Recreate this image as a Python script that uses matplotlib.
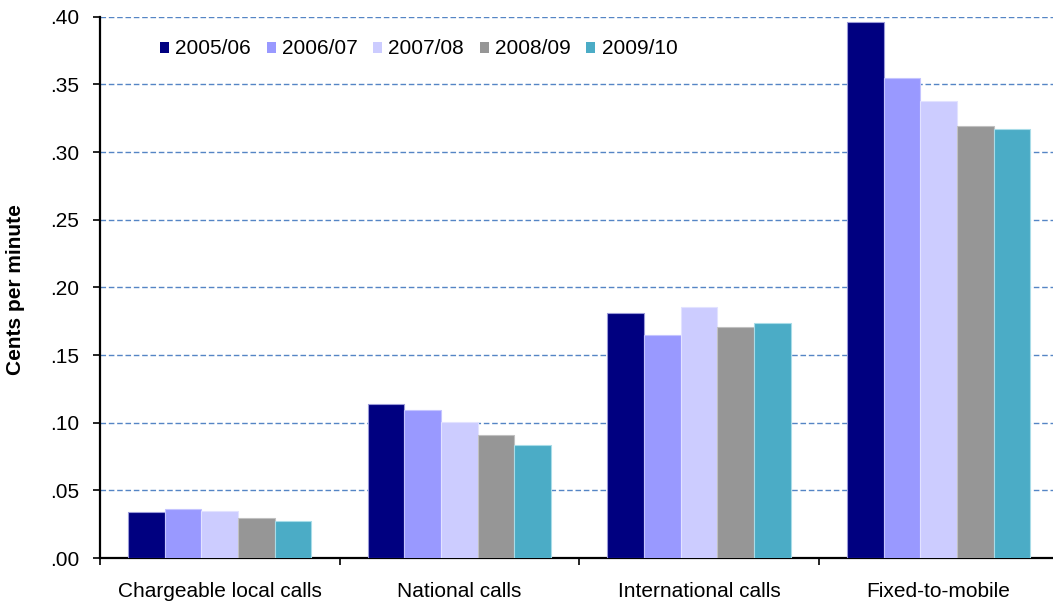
import matplotlib
matplotlib.use("Agg")
import matplotlib.pyplot as plt
import numpy as np
from matplotlib.patches import Patch

categories = ["Chargeable local calls", "National calls", "International calls", "Fixed-to-mobile"]
years = ["2005/06", "2006/07", "2007/08", "2008/09", "2009/10"]
v2005 = [0.0338, 0.1139, 0.1807, 0.3960]
v2006 = [0.0360, 0.1092, 0.1647, 0.3548]
v2007 = [0.0348, 0.1006, 0.1857, 0.3378]
v2008 = [0.0298, 0.0907, 0.1709, 0.3193]
v2009 = [0.0274, 0.0833, 0.1733, 0.3171]
series = [v2005, v2006, v2007, v2008, v2009]
colors = ["#000080", "#9999FF", "#CCCCFF", "#969696", "#4BACC6"]
edges = ["#9A9AD8", "#C4C4FF", "#E2E2FF", "#C0C0C0", "#A8DCE8"]
yticks = [0.0, 0.05, 0.10, 0.15, 0.20, 0.25, 0.30, 0.35, 0.40]
ytick_labels = [".00", ".05", ".10", ".15", ".20", ".25", ".30", ".35", ".40"]

plt.rcParams['font.family'] = ['Liberation Sans', 'DejaVu Sans']

W, H = 1053, 605
fig = plt.figure(figsize=(W / 100, H / 100), dpi=100)
ax = fig.add_axes([100 / W, 1 - 558 / H, (1058.5 - 100) / W, (558 - 16.7) / H])

x = np.arange(len(categories))
bw = 0.153
for i, (vals, c, e) in enumerate(zip(series, colors, edges)):
    ax.bar(x + (i - 2) * bw, vals, width=bw, color=c, edgecolor=e, linewidth=0.8,
           label=years[i], zorder=3)

ax.set_xlim(-0.5, 3.5)
ax.set_ylim(0, 0.40)
ax.set_yticks(yticks)
ax.set_yticklabels(ytick_labels, fontsize=15)
for yv in yticks[1:]:
    ax.axhline(yv, color="#5585C5", linestyle=(0, (4, 2)), linewidth=1.0, zorder=1)

ax.set_xticks([-0.5, 0.5, 1.5, 2.5, 3.5])
ax.set_xticklabels([])
ax.set_xticks(x, minor=True)
ax.set_xticklabels(categories, minor=True, fontsize=15)
ax.tick_params(axis='x', which='minor', length=0, pad=17)
ax.tick_params(axis='x', which='major', direction='out', length=5, width=1.2)
ax.tick_params(axis='y', direction='out', length=5, width=1.2, pad=10)

for s in ["top", "right"]:
    ax.spines[s].set_visible(False)
for s in ["left", "bottom"]:
    ax.spines[s].set_linewidth(1.6)
    ax.spines[s].set_color("black")

fig.text(16 / W, 1 - 290 / H, "Cents per minute", rotation=90, fontsize=15,
         fontweight='bold', ha='center', va='center')

handles = [Patch(facecolor=c, edgecolor='none') for c in colors]
fig.legend(handles, years, loc='center left', bbox_to_anchor=(160 / W, 1 - 49 / H),
           ncol=5, frameon=False, fontsize=15, borderpad=0, borderaxespad=0,
           handlelength=0.43, handleheight=0.43, handletextpad=0.3, columnspacing=0.75)

fig.savefig("out.png", dpi=100)
